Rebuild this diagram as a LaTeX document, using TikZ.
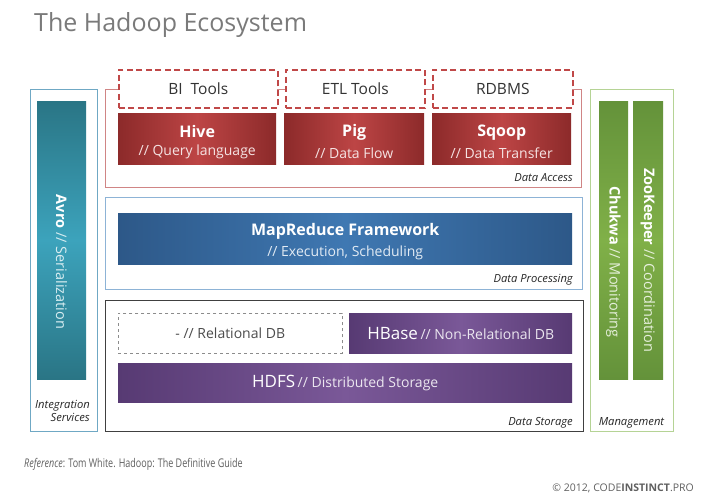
\documentclass[tikz,border=0pt]{standalone}
\usepackage{fontspec}
\usepackage{graphicx}
\setmainfont{Open Sans}
\definecolor{titlegray}{HTML}{7A7A7A}
\definecolor{txtgray}{HTML}{606060}
\definecolor{reddark}{HTML}{8C2A2A}
\definecolor{redlight}{HTML}{BD4545}
\definecolor{redline}{HTML}{D08585}
\definecolor{reddash}{HTML}{C04848}
\definecolor{bluedark}{HTML}{2D5888}
\definecolor{bluelight}{HTML}{3F78B2}
\definecolor{blueline}{HTML}{8DB3D6}
\definecolor{purpdark}{HTML}{573A73}
\definecolor{purplight}{HTML}{7A5898}
\definecolor{tealdark}{HTML}{2A7585}
\definecolor{teallight}{HTML}{3CA3BC}
\definecolor{tealline}{HTML}{6FA8C4}
\definecolor{greendark}{HTML}{64923A}
\definecolor{greenlight}{HTML}{80B048}
\definecolor{greenline}{HTML}{B5D395}
\definecolor{storline}{HTML}{404040}
\tikzset{
  barbox/.style={anchor=north west, inner sep=0pt, align=center, text=white},
  redbar/.style={barbox, left color=reddark, right color=reddark, middle color=redlight},
  bluebar/.style={barbox, left color=bluedark, right color=bluedark, middle color=bluelight},
  purpbar/.style={barbox, left color=purpdark, right color=purpdark, middle color=purplight},
  tealbar/.style={top color=tealdark, bottom color=tealdark, middle color=teallight},
  greenbar/.style={top color=greendark, bottom color=greendark, middle color=greenlight},
  bartext/.style={inner sep=0pt, align=center, text=white, yshift=-3pt},
  dashbox/.style={anchor=north west, draw=reddash, line width=1.6pt, dash pattern=on 6pt off 3.5pt, inner sep=0pt, text=black!80, font=\fontsize{15.5}{18}\selectfont},
  catlabel/.style={inner sep=0pt, font=\fontsize{11.2}{13.5}\selectfont\itshape, text=black!85},
  vlabel/.style={rotate=-90, inner sep=0pt, text=white, font=\fontsize{14.5}{18}\selectfont},
}
\newcommand{\bartitle}[3]{{\fontsize{16}{19}\selectfont\bfseries #1}\\[6pt]{\fontsize{14}{16}\selectfont\color{white!85!#3}#2}}
\begin{document}
\begin{tikzpicture}[x=1pt,y=-1pt]
\useasboundingbox (0,0) rectangle (702,501);
\fill[white] (0,0) rectangle (702,501);
% title
\node[anchor=base west, inner sep=0pt, font=\fontsize{25}{30}\selectfont, text=titlegray] (title) at (34,31) {The Hadoop Ecosystem};

% Integration services
\draw[tealline, line width=0.8pt] (30,89) rectangle (97,431);
\shade[tealbar] (37,101) rectangle (86,379);
\node[vlabel] (avro) at (61.5,262) {\textbf{Avro} {\color{white!80!teallight}// Serialization}};
\node[catlabel, align=right, anchor=north east] (integ) at (90,400) {Integration\\Services};

% Management
\draw[greenline, line width=0.8pt] (590,89) rectangle (673,431);
\shade[greenbar] (599,101) rectangle (628,379);
\shade[greenbar] (633,101) rectangle (663,379);
\node[vlabel] (chukwa) at (613.5,262) {\textbf{Chukwa} {\color{white!80!greenlight}// Monitoring}};
\node[vlabel] (zoo) at (648,260) {\textbf{ZooKeeper} {\color{white!80!greenlight}// Coordination}};
\node[catlabel, anchor=base] (mgmt) at (631.5,425) {Management};

% Data access
\draw[redline, line width=0.8pt] (118,89) -- (105,89) -- (105,187) -- (581,187) -- (581,89) -- (572,89);
\draw[redline, line width=0.8pt] (277,89) -- (285,89);
\draw[redline, line width=0.8pt] (424,89) -- (432,89);
\node[dashbox, minimum width=159pt, minimum height=38pt] (bi) at (118,69) {BI\ \ Tools};
\node[dashbox, minimum width=139pt, minimum height=38pt] (etl) at (285,69) {ETL Tools};
\node[dashbox, minimum width=140pt, minimum height=38pt] (rdbms) at (432,69) {RDBMS};
\node[redbar, minimum width=158pt, minimum height=51pt] (hive) at (118,113) {};
\node[redbar, minimum width=140pt, minimum height=51pt] (pig) at (284,113) {};
\node[redbar, minimum width=139pt, minimum height=51pt] (sqoop) at (432,113) {};
\node[bartext] (hivet) at (hive.center) {\bartitle{Hive}{// Query language}{redlight}};
\node[bartext] (pigt) at (pig.center) {\bartitle{Pig}{// Data Flow}{redlight}};
\node[bartext] (sqoopt) at (sqoop.center) {\bartitle{Sqoop}{// Data Transfer}{redlight}};
\node[catlabel, anchor=base east] (access) at (573,181) {Data Access};

% Data processing
\draw[blueline, line width=0.8pt] (105,197) rectangle (582,289);
\node[bluebar, minimum width=454pt, minimum height=51pt] (mapred) at (118,213) {};
\node[bartext] (mapredt) at (mapred.center) {\bartitle{MapReduce Framework}{// Execution, Scheduling}{bluelight}};
\node[catlabel, anchor=base east] (proc) at (573,282) {Data Processing};

% Data storage
\draw[storline, line width=0.8pt] (105,300) rectangle (583,431);
\node[anchor=north west, draw=black!45, dashed, line width=0.5pt, minimum width=224pt, minimum height=40pt, inner sep=0pt, text=black!70, font=\fontsize{14}{16}\selectfont] (rel) at (118,313) {- // Relational DB};
\node[purpbar, minimum width=223pt, minimum height=40pt] (hbase) at (349,313) {{\fontsize{17}{19}\selectfont HBase} {\fontsize{14}{16}\selectfont\color{white!85!purplight}// Non-Relational DB}};
\node[purpbar, minimum width=454pt, minimum height=39pt] (hdfs) at (118,363) {{\fontsize{17}{19}\selectfont HDFS} {\fontsize{14}{16}\selectfont\color{white!85!purplight}// Distributed Storage}};
\node[catlabel, anchor=base east] (stor) at (573,425) {Data Storage};

% footer
\node[anchor=base west, inner sep=0pt, text=txtgray, font=\fontsize{12}{14}\selectfont] (ref) at (24,467) {\scalebox{0.75}[1]{\textit{Reference}: Tom White. Hadoop: The Definitive Guide}};
\node[anchor=base east, inner sep=0pt, text=txtgray, font=\fontsize{10.5}{12}\selectfont] (copy) at (694,491) {© 2012, CODE\textbf{INSTINCT}.PRO};
\end{tikzpicture}
\end{document}
